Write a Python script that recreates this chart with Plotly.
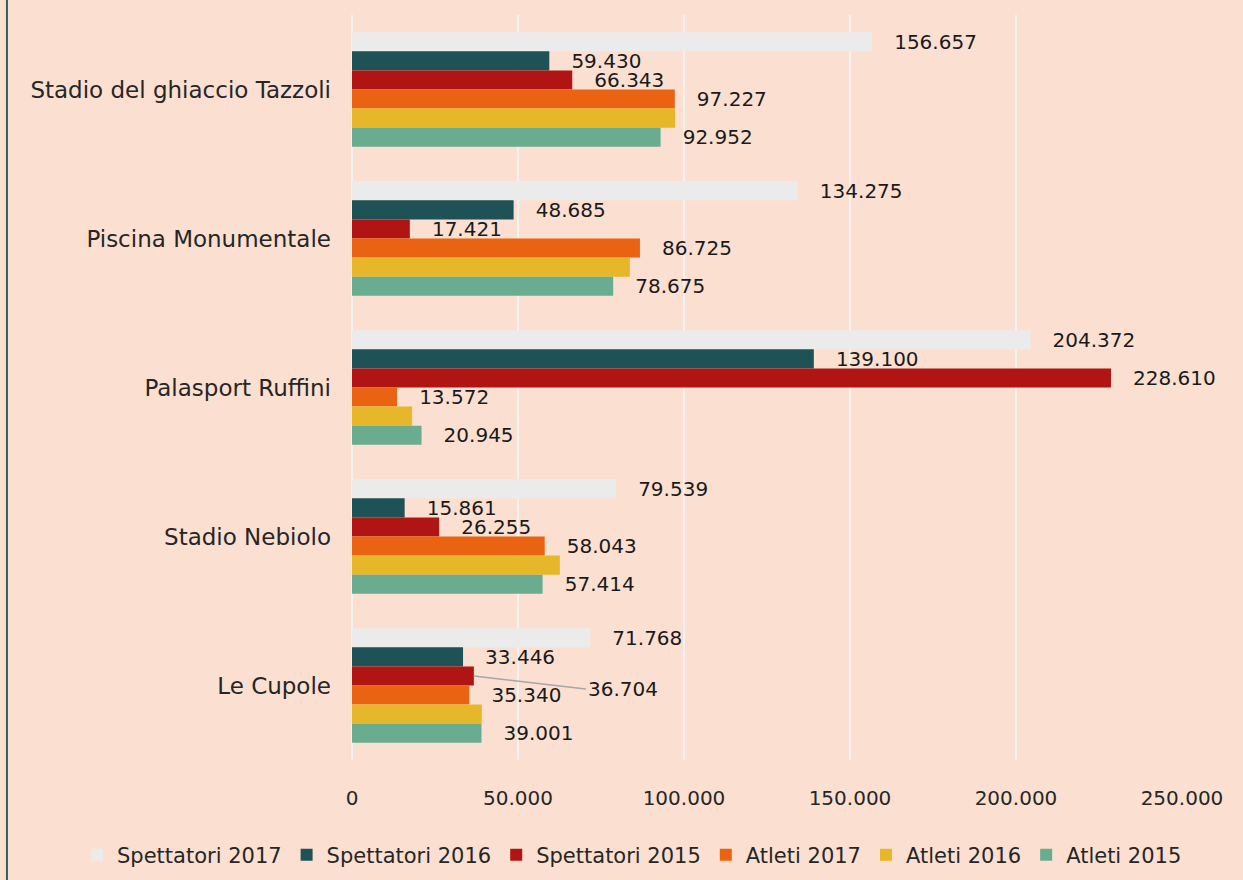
import plotly.graph_objects as go

# Impianti (dall'alto in basso)
impianti = ["Stadio del ghiaccio Tazzoli", "Piscina Monumentale", "Palasport Ruffini",
            "Stadio Nebiolo", "Le Cupole"]

spettatori_2017 = [156657, 134275, 204372, 79539, 71768]
spettatori_2016 = [59430, 48685, 139100, 15861, 33446]
spettatori_2015 = [66343, 17421, 228610, 26255, 36704]
atleti_2017 = [97227, 86725, 13572, 58043, 35340]
atleti_2016 = [97300, 83700, 18100, 62600, 39100]   # nessuna etichetta nel grafico
atleti_2015 = [92952, 78675, 20945, 57414, 39001]

series = [
    ("Spettatori 2017", spettatori_2017, "#EBEBEB", True),
    ("Spettatori 2016", spettatori_2016, "#1F5257", True),
    ("Spettatori 2015", spettatori_2015, "#B01513", True),
    ("Atleti 2017", atleti_2017, "#EA6312", True),
    ("Atleti 2016", atleti_2016, "#E6B729", False),
    ("Atleti 2015", atleti_2015, "#6AAC90", True),
]

FONT = "DejaVu Sans"
TXT = "#1a1a1a"


def fmt(v):
    return f"{v:,}".replace(",", ".")


fig = go.Figure()
for name, vals, color, labels in series:
    txt = None
    if labels:
        txt = ["\u00a0\u00a0\u00a0" + fmt(v) for v in vals]
        if name == "Spettatori 2015":
            txt[-1] = ""  # etichetta con linea guida, vedi annotazione
    fig.add_trace(go.Bar(
        y=impianti, x=vals, name=name, orientation="h",
        marker_color=color, marker_line_width=0,
        text=txt, textposition="outside", constraintext="none", cliponaxis=False,
        textfont=dict(family=FONT, size=20, color=TXT),
        hoverinfo="x+name",
    ))

# etichetta con linea guida per Le Cupole, Spettatori 2015
fig.add_annotation(
    x=spettatori_2015[-1], y=impianti[-1], yshift=9.5,
    text=fmt(spettatori_2015[-1]),
    showarrow=True, arrowhead=0, arrowwidth=1.5, arrowcolor="#A6A6A6",
    ax=112, ay=13, xanchor="left",
    font=dict(family=FONT, size=20, color=TXT),
)

# bordo sinistro del riquadro
fig.add_shape(type="line", xref="paper", yref="paper",
              x0=-0.4157, x1=-0.4157, y0=-0.2, y1=1.03,
              line=dict(color="#2E5E62", width=2))

fig.update_layout(
    width=1243, height=880,
    paper_bgcolor="#FBE0D1", plot_bgcolor="#FBE0D1",
    margin=dict(l=352, r=61, t=15, b=120, autoexpand=False),
    barmode="group", bargap=0.23, bargroupgap=0,
    separators=",.",
    font=dict(family=FONT, size=20, color="#262626"),
    xaxis=dict(range=[0, 250000], dtick=50000, tickformat=",d",
               showgrid=True, gridcolor="#F2F2F2", gridwidth=2,
               zeroline=True, zerolinecolor="#F2F2F2", zerolinewidth=2,
               showline=False, ticks="", ticklabelstandoff=24,
               tickfont=dict(family=FONT, size=20, color="#262626")),
    yaxis=dict(autorange="reversed", showgrid=False, showline=False, ticks="",
               ticklabelstandoff=20,
               tickfont=dict(family=FONT, size=23, color="#262626")),
    legend=dict(orientation="h", x=-0.3313, xanchor="left", y=-0.1, yanchor="top",
                font=dict(family=FONT, size=21, color="#262626"),
                bgcolor="rgba(0,0,0,0)", itemwidth=30, traceorder="normal"),
    showlegend=True,
)

fig.write_html("out.html", config={"displayModeBar": False},
               post_script="document.body.style.margin='0';")
